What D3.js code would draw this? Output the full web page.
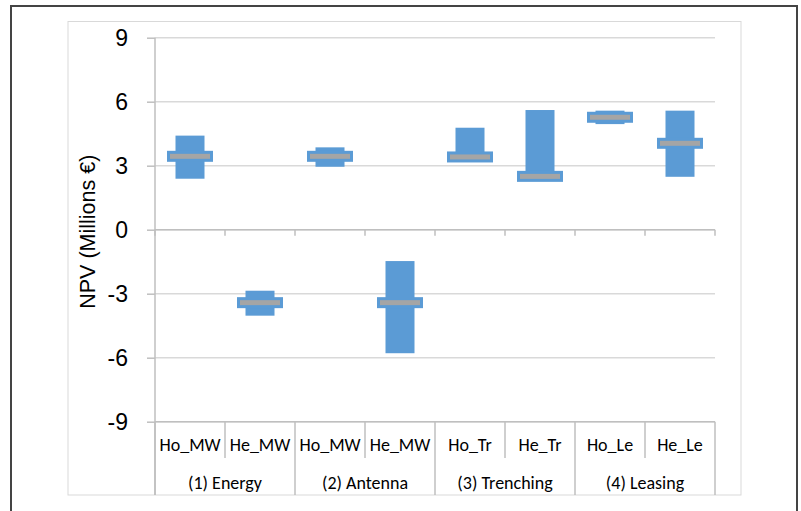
<!DOCTYPE html>
<html>
<head>
<meta charset="utf-8">
<script src="https://cdn.jsdelivr.net/npm/d3@7"></script>
<style>
  body { margin: 0; background: #fff; }
</style>
</head>
<body>
<div id="container"></div>
<script>
/* CONSTANTS AND GLOBALS */
const width = 801,
  height = 511,
  margin = { top: 37.7, bottom: 89.3, left: 155, right: 86 },
  colors = { box: '#5B9BD5', median: '#A5A5A5', grid: '#d9d9d9', axis: '#bfbfbf' }

/* DATA */
const groups = ["(1) Energy", "(2) Antenna", "(3) Trenching", "(4) Leasing"]
const subLabels = ["Ho_MW", "He_MW", "Ho_MW", "He_MW", "Ho_Tr", "He_Tr", "Ho_Le", "He_Le"]
const maxVals = [4.41, -2.86, 3.86, -1.47, 4.78, 5.61, 5.58, 5.58]
const minVals = [2.39, -4.03, 2.95, -5.79, 3.30, 2.35, 4.95, 2.48]
const medVals = [3.44, -3.42, 3.44, -3.42, 3.41, 2.50, 5.27, 4.05]
const yTicks = [-9, -6, -3, 0, 3, 6, 9]

const data = subLabels.map((s, i) => ({ i, label: s, min: minVals[i], max: maxVals[i], med: medVals[i] }))

/* SCALES */
const xScale = d3.scaleBand()
  .domain(d3.range(subLabels.length))
  .range([margin.left, width - margin.right])

const groupScale = d3.scaleBand()
  .domain(groups)
  .range([margin.left, width - margin.right])

const yScale = d3.scaleLinear()
  .domain([-9, 9])
  .range([height - margin.bottom, margin.top])

const svg = d3.select("#container")
  .append("svg")
  .attr("width", width)
  .attr("height", height)

// outer frame and chart area border
svg.append("rect")
  .attr("x", 11).attr("y", 6)
  .attr("width", 786).attr("height", 530)
  .attr("fill", "none").attr("stroke", "#444").attr("stroke-width", 2)

svg.append("rect")
  .attr("x", 68).attr("y", 21.5)
  .attr("width", 673).attr("height", 473.5)
  .attr("fill", "none").attr("stroke", colors.grid).attr("stroke-width", 1)

const bottomY = 495

/* GRIDLINES */
svg.append("g")
  .selectAll("line")
  .data(yTicks)
  .join("line")
  .attr("x1", margin.left)
  .attr("x2", width - margin.right)
  .attr("y1", d => yScale(d))
  .attr("y2", d => yScale(d))
  .attr("stroke", colors.grid)
  .attr("stroke-width", 1.5)

/* Y AXIS */
const yAxis = d3.axisLeft(yScale)
  .tickValues(yTicks)
  .tickFormat(d => String(d))
  .tickSize(8)
  .tickPadding(19)
svg.append("g")
  .attr("transform", `translate(${margin.left},0)`)
  .call(yAxis)
  .call(g => g.select(".domain").remove())
  .call(g => g.selectAll(".tick line").attr("stroke", colors.axis).attr("stroke-width", 1.5))
  .call(g => g.selectAll(".tick text")
    .attr("font-family", "Liberation Sans, Arial, sans-serif")
    .attr("font-size", "23px")
    .attr("fill", "#000"))

// y axis line runs down through the category labels
svg.append("line")
  .attr("x1", margin.left).attr("x2", margin.left)
  .attr("y1", yScale(9)).attr("y2", bottomY)
  .attr("stroke", colors.axis).attr("stroke-width", 1.5)

svg.append("text")
  .attr("transform", `translate(95,${(yScale(9) + yScale(-9)) / 2 + 2}) rotate(-90)`)
  .attr("text-anchor", "middle")
  .attr("font-family", "Liberation Sans, Arial, sans-serif")
  .attr("font-size", "21.5px")
  .attr("fill", "#000")
  .text("NPV (Millions €)")

/* CATEGORY AXIS AT ZERO */
const bounds = d3.range(subLabels.length + 1).map(i => margin.left + i * xScale.step())
svg.append("line")
  .attr("x1", margin.left).attr("x2", width - margin.right)
  .attr("y1", yScale(0)).attr("y2", yScale(0))
  .attr("stroke", colors.axis).attr("stroke-width", 1.5)
svg.append("g")
  .selectAll("line")
  .data(bounds)
  .join("line")
  .attr("x1", d => d).attr("x2", d => d)
  .attr("y1", yScale(0)).attr("y2", yScale(0) + 6)
  .attr("stroke", colors.axis).attr("stroke-width", 1.5)

/* CATEGORY LABELS AT BOTTOM */
svg.append("g")
  .selectAll("line")
  .data(bounds)
  .join("line")
  .attr("x1", d => d).attr("x2", d => d)
  .attr("y1", yScale(-9))
  .attr("y2", (d, i) => i % 2 === 0 ? bottomY : 458)
  .attr("stroke", colors.axis).attr("stroke-width", 1.5)

svg.append("line")
  .attr("x1", margin.left).attr("x2", width - margin.right)
  .attr("y1", yScale(-9)).attr("y2", yScale(-9))
  .attr("stroke", colors.axis).attr("stroke-width", 1.5)

svg.append("g")
  .selectAll("text")
  .data(data)
  .join("text")
  .attr("x", d => xScale(d.i) + xScale.bandwidth() / 2)
  .attr("y", 451)
  .attr("text-anchor", "middle")
  .attr("font-family", "Carlito, Lato, sans-serif")
  .attr("font-size", "18px")
  .attr("fill", "#000")
  .text(d => d.label)

svg.append("g")
  .selectAll("text")
  .data(groups)
  .join("text")
  .attr("x", d => groupScale(d) + groupScale.bandwidth() / 2)
  .attr("y", 489)
  .attr("text-anchor", "middle")
  .attr("font-family", "Carlito, Lato, sans-serif")
  .attr("font-size", "18px")
  .attr("fill", "#000")
  .text(d => d)

/* BOXES */
const boxW = 29, medW = 43, medH = 8

svg.append("g")
  .selectAll("rect")
  .data(data)
  .join("rect")
  .attr("x", d => xScale(d.i) + xScale.bandwidth() / 2 - boxW / 2)
  .attr("y", d => yScale(d.max))
  .attr("width", boxW)
  .attr("height", d => yScale(d.min) - yScale(d.max))
  .attr("fill", colors.box)

svg.append("g")
  .selectAll("rect")
  .data(data)
  .join("rect")
  .attr("x", d => xScale(d.i) + xScale.bandwidth() / 2 - medW / 2)
  .attr("y", d => yScale(d.med) - medH / 2)
  .attr("width", medW)
  .attr("height", medH)
  .attr("fill", colors.median)
  .attr("stroke", colors.box)
  .attr("stroke-width", 3)
</script>
</body>
</html>
